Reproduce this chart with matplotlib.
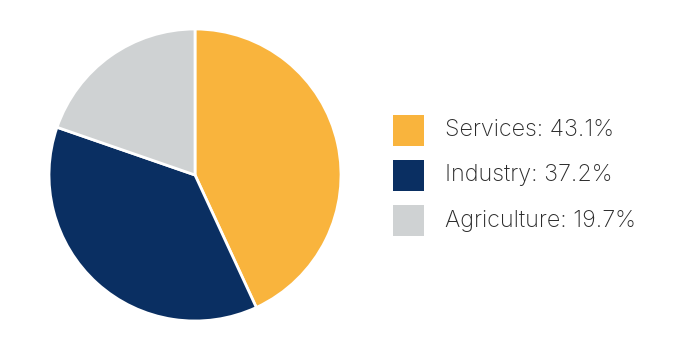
import matplotlib
matplotlib.use("Agg")
import matplotlib.pyplot as plt
from matplotlib.patches import Rectangle

categories = ["Services", "Industry", "Agriculture"]
values = [43.1, 37.2, 19.7]
colors = ["#F9B43D", "#0A2F62", "#CFD2D3"]

fig = plt.figure(figsize=(7, 3.5), dpi=100)
W, H = 700, 350
cx, cy, r = 195, 175, 146
ax = fig.add_axes([(cx - r) / W, (H - cy - r) / H, 2 * r / W, 2 * r / H])
ax.pie(values, colors=colors, startangle=90, counterclock=False,
       wedgeprops=dict(edgecolor="white", linewidth=2), radius=1.0)
ax.set_xlim(-1.0, 1.0)
ax.set_ylim(-1.0, 1.0)
ax.set_aspect("equal")
ax.axis("off")

for i, (cat, val, col) in enumerate(zip(categories, values, colors)):
    top = 115 + 45 * i
    fig.patches.append(Rectangle((393 / W, (H - top - 31) / H), 31 / W, 31 / H,
                                 transform=fig.transFigure, facecolor=col,
                                 edgecolor="none"))
    fig.text(445 / W, (H - top - 15.5) / H, f"{cat}: {val}%",
             ha="left", va="center", fontsize=16.8, color="#2a2a2a",
             family=["Inter", "DejaVu Sans"], fontweight="light")

fig.savefig("out.png", dpi=100)
